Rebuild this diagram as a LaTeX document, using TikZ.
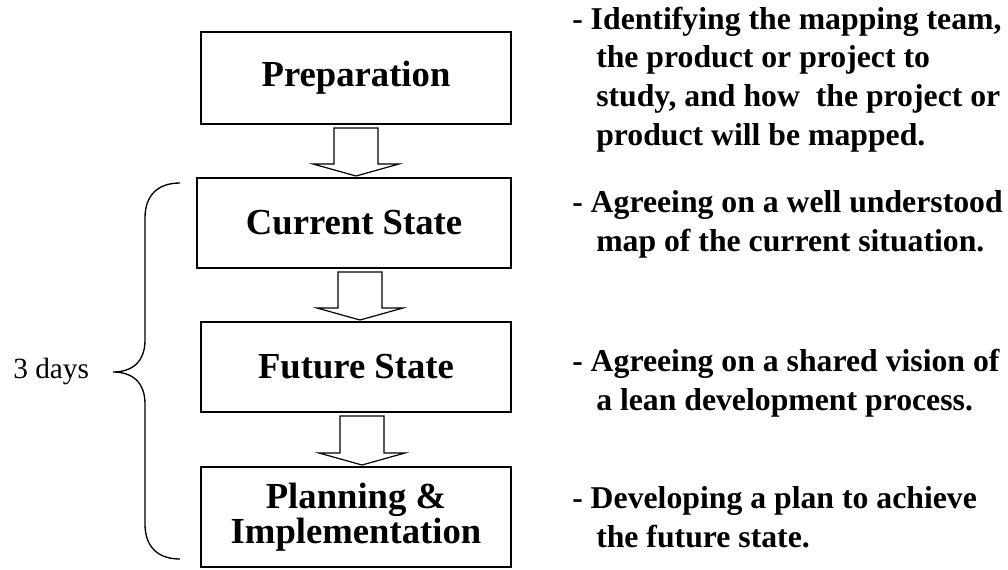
\documentclass[tikz,border=0pt]{standalone}
\usepackage{fontspec}
\setmainfont{Liberation Serif}
\usetikzlibrary{calc}
\newcommand{\blockarrow}[3]{%
  \coordinate (ax) at (#3,0);
  \draw[blockarr] ($(ax |- #1.south)+(-22,4)$) -- ($(ax |- #1.south)+(22,4)$)
    -- ($(ax |- #2.north)+(22,-14)$) -- ($(ax |- #2.north)+(43,-14)$)
    -- ($(ax |- #2.north)+(0,-2)$) -- ($(ax |- #2.north)+(-43,-14)$)
    -- ($(ax |- #2.north)+(-22,-14)$) -- cycle;}
\begin{document}
\begin{tikzpicture}[x=0.75pt,y=-0.75pt,
  box/.style={draw, line width=1.2pt, inner sep=0pt, outer sep=0pt, align=center,
    font=\bfseries\fontsize{27.5}{26.3}\selectfont},
  blockarr/.style={draw, line width=0.9pt, fill=white, line join=miter},
  note/.style={anchor=base west, inner sep=0pt, align=left,
    font=\bfseries\fontsize{23.8}{29}\selectfont},
  bracestyle/.style={draw, line width=1pt}]
\fill[white] (0,0) rectangle (1008,569);
\useasboundingbox (0,0) rectangle (1008,569);

\node[box, minimum width=232.5pt, minimum height=69pt] (prep) at (356,78) {Preparation};
\node[box, minimum width=235.5pt, minimum height=67.5pt] (cur) at (354,223) {Current State};
\node[box, minimum width=232.5pt, minimum height=67.5pt] (fut) at (356,367) {Future State};
\node[box, minimum width=232.5pt, minimum height=75pt] (plan) at (356,517) {Planning \&\\Implementation};

\blockarrow{prep}{cur}{356}
\blockarrow{cur}{fut}{360}
\blockarrow{fut}{plan}{362}

% anchor = baseline of the last line
\node[note] (n1) at (572,145) {- Identifying the mapping team,\\\hspace*{18pt}the product or project to\\\hspace*{18pt}study, and how\ \ the project or\\\hspace*{18pt}product will be mapped.};
\node[note] (n2) at (572,251) {- Agreeing on a well understood\\\hspace*{18pt}map of the current situation.};
\node[note] (n3) at (572,410) {- Agreeing on a shared vision of\\\hspace*{18pt}a lean development process.};
\node[note] (n4) at (572,547) {- Developing a plan to achieve\\\hspace*{18pt}the future state.};

\node[anchor=base west, inner sep=0pt, font=\fontsize{22}{26}\selectfont] (days) at (13,378) {3 days};

\draw[bracestyle] (180,183) .. controls (158,183) and (145,195) .. (145,218)
  -- (145,340) .. controls (145,362) and (132,372) .. (113,372)
  .. controls (132,372) and (145,382) .. (145,404)
  -- (145,524) .. controls (145,547) and (158,559) .. (180,559);
\end{tikzpicture}
\end{document}
